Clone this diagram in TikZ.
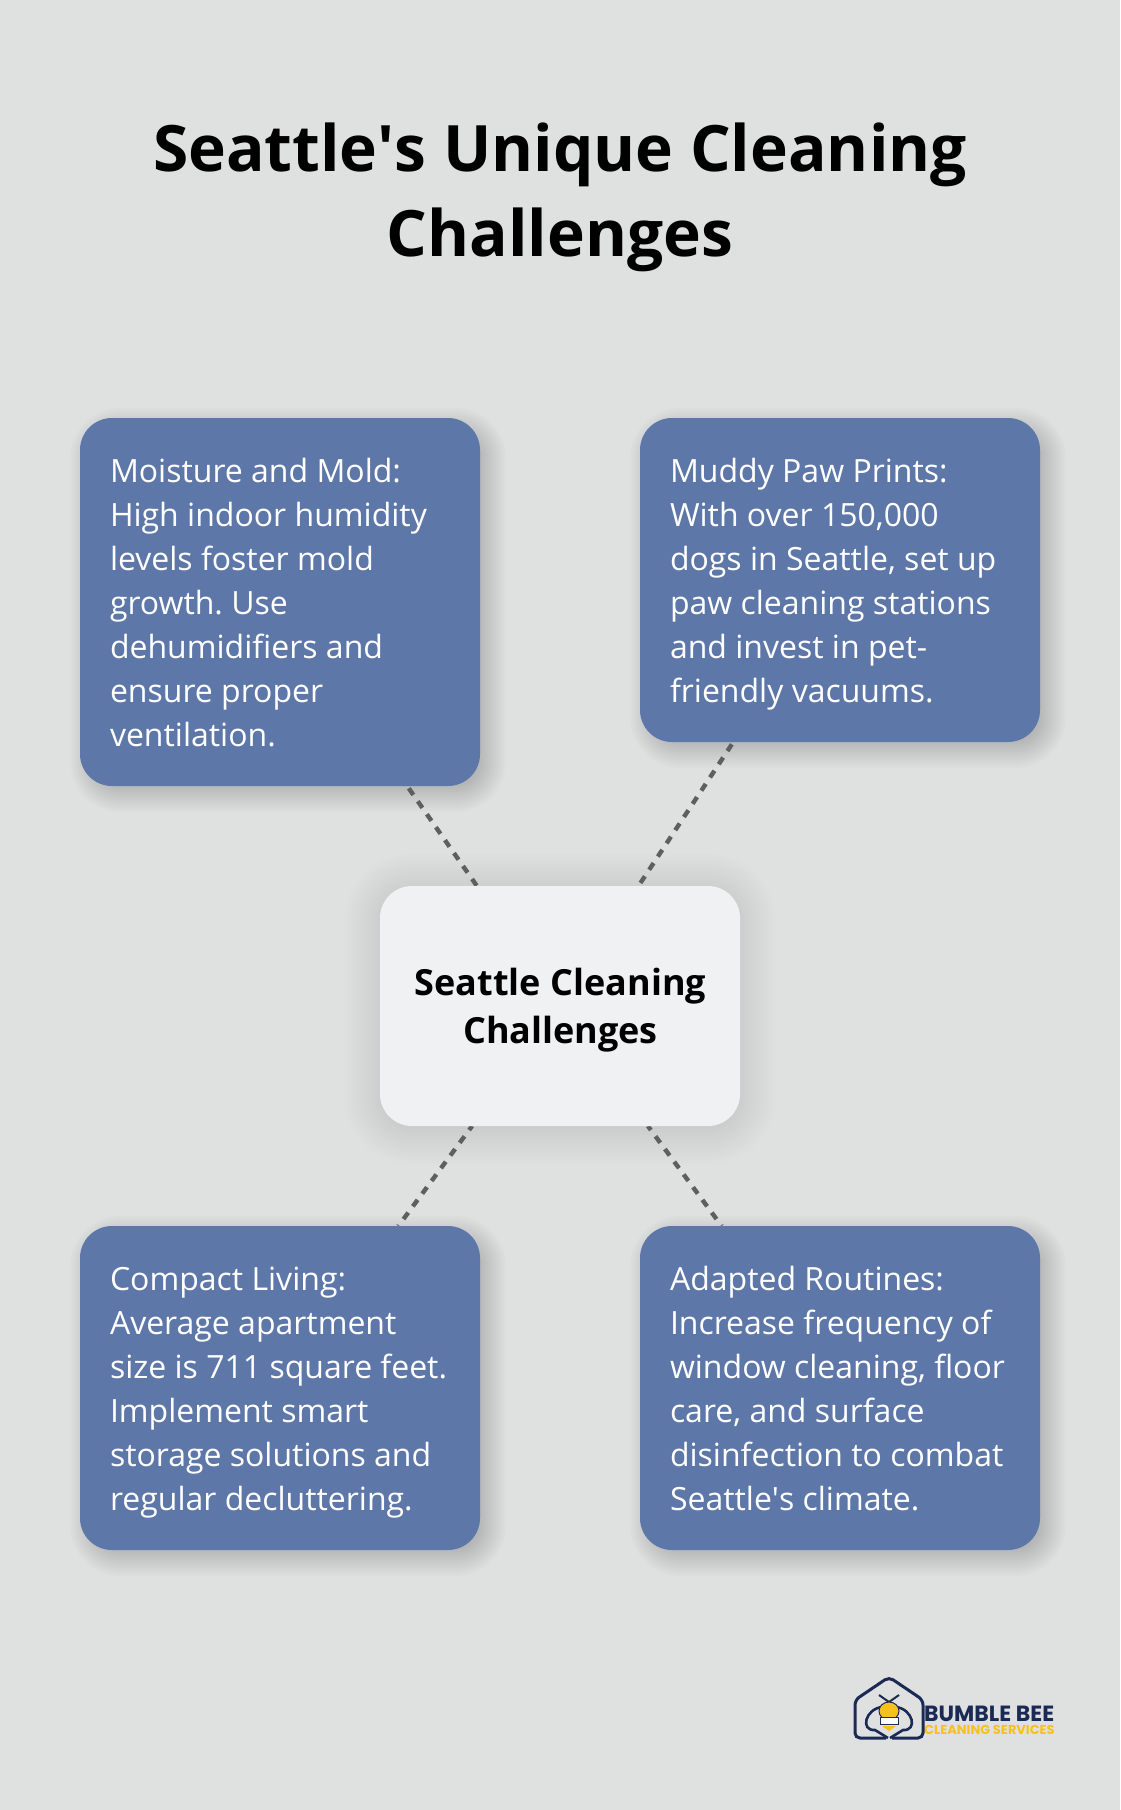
\documentclass[tikz,border=0pt]{standalone}
\usepackage{fontspec}
\setmainfont{Open Sans}
\newfontfamily\logofont{Poppins}
\usetikzlibrary{calc}
\usetikzlibrary{backgrounds}
\definecolor{pagegray}{HTML}{DFE1E1}
\definecolor{cardblue}{HTML}{5E77A9}
\definecolor{hubwhite}{HTML}{EFF1F3}
\definecolor{dashgray}{HTML}{5F5F5F}
\definecolor{beenavy}{HTML}{1B2A55}
\definecolor{beeyellow}{HTML}{F5C21B}
\frenchspacing
\newcommand{\cardstrut}{\rule[-9.6pt]{0pt}{44pt}}
\newcommand{\softshadow}[5]{%
  \foreach \g in {-12,-10,...,#4}
    \fill [black, opacity=#5, rounded corners=32+\g]
      ($(#1.north west)+(#2-\g,#3-\g)$) rectangle ($(#1.south east)+(#2+\g,#3+\g)$);}
\tikzset{cardbox/.style = {fill=cardblue, text=white, rounded corners=32, text width=340, inner xsep=30, inner ysep=30, outer sep=0, align=left, anchor=north west, font=\fontsize{32}{44}\selectfont, execute at begin node={\spaceskip=8.32pt\relax\cardstrut}, execute at end node=\cardstrut}}
\tikzset{hubbox/.style = {fill=hubwhite, rounded corners=32, minimum width=360, minimum height=240, inner sep=0, outer sep=0}}
\tikzset{hubtext/.style = {inner sep=0, align=center, font=\fontsize{36}{48}\selectfont\bfseries}}
\tikzset{titletext/.style = {inner sep=0, align=center, font=\fontsize{64}{85}\selectfont\bfseries}}
\tikzset{cor/.style = {draw=dashgray, line width=4.4, dash pattern=on 8 off 7.8}}
\begin{document}
\begin{tikzpicture}[x=1pt, y=-1pt]
\useasboundingbox (0, 0) rectangle (1120, 1810);
\node [titletext] (title) at (560, 197) {Seattle\textquotesingle s Unique Cleaning\\Challenges};
\node [cardbox] (moisture) at (80, 418) {Moisture and Mold:\\High indoor humidity\\levels foster mold\\growth. Use\\dehumidifiers and\\ensure proper\\ventilation.};
\node [cardbox] (paws) at (640, 418) {Muddy Paw Prints:\\With over 150,000\\dogs in Seattle, set up\\paw cleaning stations\\and invest in pet-\\friendly vacuums.};
\node [hubbox] (hub) at (560, 1006) {};
\node [hubtext] (hublabel) at (560.5, 1010.6) {Seattle Cleaning\\Challenges};
\node [cardbox] (compact) at (80, 1226) {Compact Living:\\Average apartment\\size is 711 square feet.\\Implement smart\\storage solutions and\\regular decluttering.};
\node [cardbox] (routines) at (640, 1226) {Adapted Routines:\\Increase frequency of\\window cleaning, floor\\care, and surface\\disinfection to combat\\Seattle\textquotesingle s climate.};
% logo
\node [inner sep=0, anchor=base west, text=beenavy, font=\logofont\fontsize{22}{22}\selectfont\bfseries] (beename) at (924, 1721) {BUMBLE BEE};
\node [inner sep=0, anchor=base west, text=beeyellow, font=\logofont\fontsize{13}{13}\selectfont\bfseries] (beeservices) at (924, 1734.5) {CLEANING SERVICES};
\draw [beenavy, line width=3, rounded corners=5] (886, 1738) -- (855, 1738) -- (855, 1700) -- (889, 1677) -- (923, 1700) -- (923, 1738) -- (892, 1738);
\draw [beenavy, line width=2] (879, 1695) -- (889, 1702) -- (899, 1695);
\draw [beenavy, line width=2.6] (882, 1707) .. controls (865, 1709) and (860, 1731) .. (875, 1730) -- (888, 1738);
\draw [beenavy, line width=2.6] (896, 1707) .. controls (913, 1709) and (918, 1731) .. (903, 1730) -- (890, 1738);
\fill [beeyellow, draw=beenavy, line width=1] (889, 1711) ellipse [x radius=10, y radius=9];
\fill [white, draw=beenavy, line width=1] (880, 1717) rectangle (898, 1724.5);
\fill [beeyellow] (882, 1726) -- (896, 1726) -- (889, 1731) -- cycle;
\begin{scope}[on background layer]
\fill [pagegray] (0, 0) rectangle (1120, 1810);
\softshadow{moisture}{8}{8}{18}{0.013}
\softshadow{paws}{8}{8}{18}{0.013}
\softshadow{compact}{8}{8}{18}{0.013}
\softshadow{routines}{8}{8}{18}{0.013}
\softshadow{hub}{0}{3}{36}{0.005}
\draw [cor, dash phase=13] (moisture) -- (hub);
\draw [cor, dash phase=13] (paws) -- (hub);
\draw [cor, dash phase=3] (hub) -- (compact);
\draw [cor, dash phase=3] (hub) -- (routines);
\end{scope}
\end{tikzpicture}
\end{document}
